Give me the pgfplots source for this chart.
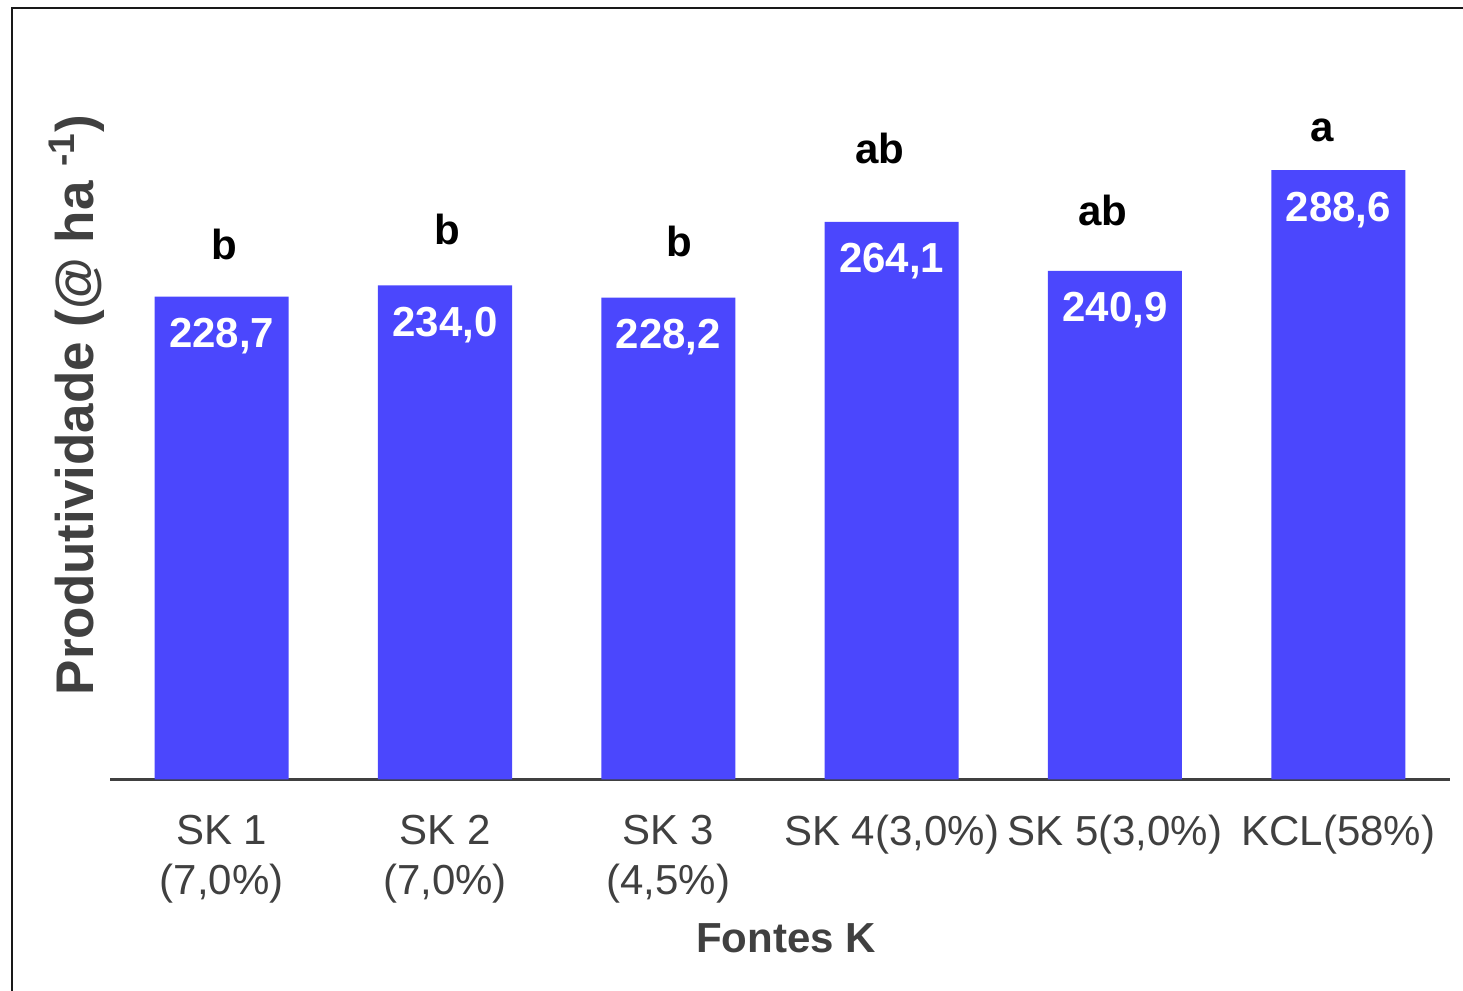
\documentclass[border=0pt]{standalone}
\usepackage{pgfplots}
\pgfplotsset{compat=1.18}
\usepackage{fontspec}
\setmainfont{Liberation Sans}
\definecolor{barblue}{HTML}{4B47FD}
\definecolor{txtgray}{HTML}{404040}
\begin{document}
\begin{tikzpicture}[x=1pt,y=1pt]
\useasboundingbox (0,0) rectangle (731.5,495.5);
\draw[line width=1pt, black!90] (5.75,0) -- (5.75,491.5) -- (731.5,491.5);
\begin{axis}[
 at={(55pt,105.8pt)}, anchor=south west,
 scale only axis, width=670pt, height=369.5pt,
 xmin=-0.5, xmax=5.5, ymin=0, ymax=350,
 hide y axis,
 axis x line*=bottom,
 x axis line style={-, line width=1.5pt, color=txtgray},
 xtick={0,1,2,3,4,5}, xtick style={draw=none},
 major tick length=0pt,
 xticklabels={{SK 1\\(7,0\%)},{SK 2\\(7,0\%)},{SK 3\\(4,5\%)},{SK 4(3,0\%)},{SK 5(3,0\%)},{KCL(58\%)}},
 xticklabel style={align=center, font=\fontsize{21}{25}\selectfont, text=txtgray, inner sep=0pt, anchor=north, yshift=-17.8pt},
 clip=false,
]
\addplot[ybar, bar width=67pt, fill=barblue, draw=none,
  nodes near coords, point meta=explicit symbolic,
  every node near coord/.append style={anchor=base, yshift=-25.5pt, inner sep=0pt, text=white, font=\fontsize{21}{25}\selectfont\bfseries}]
  coordinates {(0,228.7)[228,7] (1,234.0)[234,0] (2,228.2)[228,2] (3,264.1)[264,1] (4,240.9)[240,9] (5,288.6)[288,6]};
\addplot[draw=none, mark=none,
  nodes near coords, point meta=explicit symbolic,
  every node near coord/.append style={anchor=base, inner sep=0pt, text=black, font=\fontsize{21}{25}\selectfont\bfseries}]
  coordinates {(0.01,246.3)[b] (1.009,253.4)[b] (2.048,247.7)[b] (2.948,291.8)[ab] (3.946,262.4)[ab] (4.927,302.2)[a]};
\end{axis}
\node[rotate=90, anchor=base, text=txtgray, font=\fontsize{26.5}{30}\selectfont\bfseries] at (46.5,293) {Produtividade (@ ha \textsuperscript{-1})};
\node[anchor=base, text=txtgray, font=\fontsize{21}{25}\selectfont\bfseries] at (393,19) {Fontes K};
\end{tikzpicture}
\end{document}
